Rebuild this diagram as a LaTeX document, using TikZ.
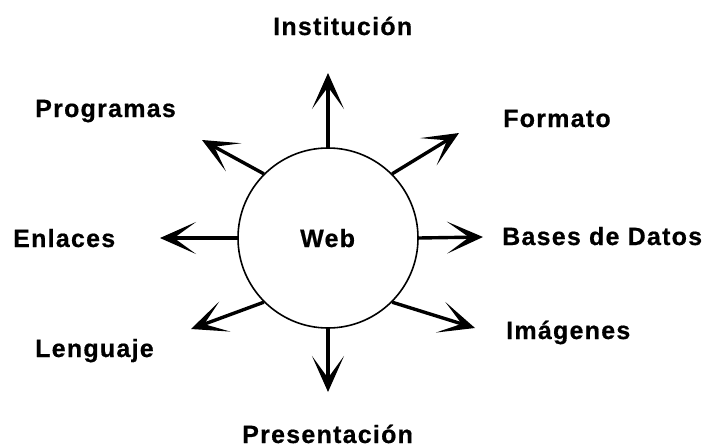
\documentclass[tikz,border=0pt]{standalone}
\usepackage{fontspec}
\setmainfont{Liberation Sans}[LetterSpace=5,BoldFeatures={FakeBold=0.6}]
\usetikzlibrary{arrows.meta}
\tikzset{
  lbl/.style={anchor=base west, inner sep=0pt, font=\fontsize{25}{28}\selectfont\bfseries},
  hub/.style={circle, draw, line width=1.6pt, minimum size=180pt, inner sep=0pt},
  ray/.style={line width=3.4pt, -{Stealth[length=36pt,width=32pt,inset=22pt,line width=2pt]}}
}
\begin{document}
\begin{tikzpicture}[x=1pt,y=-1pt]
\useasboundingbox (0,0) rectangle (709,447);
\node[hub] (web) at (328,238) {};
\node[lbl] (webt) at (300,247) {Web};
\node[lbl] (inst) at (273,35) {Institución};
\node[lbl] (prog) at (35,117) {Programas};
\node[lbl] (form) at (503,127) {Formato};
\node[lbl] (enl) at (13,247) {Enlaces};
\node[lbl] (bases) at (502,245) {Bases de Datos};
\node[lbl] (img) at (506,339) {Imágenes};
\node[lbl] (leng) at (35,357) {Lenguaje};
\node[lbl] (pres) at (242,443) {Presentación};
\coordinate (tu) at (328,73);
\coordinate (tur) at (459,133);
\coordinate (tr) at (483,237);
\coordinate (tdr) at (475,328);
\coordinate (td) at (328,392);
\coordinate (tdl) at (191,329);
\coordinate (tl) at (160,238);
\coordinate (tul) at (202,140);
\draw[ray] (web.north) -- (tu);
\draw[ray] (web.45) -- (tur);
\draw[ray] (web.east) -- (tr);
\draw[ray] (web.-45) -- (tdr);
\draw[ray] (web.south) -- (td);
\draw[ray] (web.-135) -- (tdl);
\draw[ray] (web.west) -- (tl);
\draw[ray] (web.135) -- (tul);
\end{tikzpicture}
\end{document}
